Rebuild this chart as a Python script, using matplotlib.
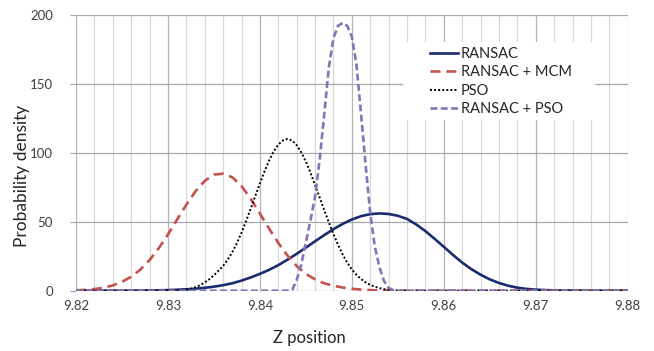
import matplotlib
matplotlib.use("Agg")
import matplotlib.pyplot as plt
from matplotlib.patches import Rectangle
from matplotlib.ticker import MultipleLocator, FormatStrFormatter

plt.rcParams['font.family'] = ['Lato', 'DejaVu Sans']

# probability density curves of the Z estimate
ransac_z = [9.820, 9.826, 9.828, 9.830, 9.831, 9.832, 9.833, 9.834, 9.835, 9.836,
            9.837, 9.838, 9.839, 9.840, 9.841, 9.842, 9.843, 9.844, 9.845, 9.846,
            9.847, 9.848, 9.849, 9.850, 9.851, 9.852, 9.853, 9.854, 9.855, 9.856,
            9.857, 9.858, 9.859, 9.860, 9.861, 9.862, 9.863, 9.864, 9.865, 9.866,
            9.867, 9.868, 9.869, 9.870, 9.871, 9.872, 9.874, 9.876, 9.880]
ransac_pd = [0, 0.05, 0.15, 0.45, 0.7, 1.0, 1.5, 2.1, 2.9, 4.0,
             5.4, 7.3, 9.6, 12.2, 15.1, 18.5, 22.5, 26.7, 31.2, 35.8,
             40.3, 44.6, 48.4, 51.6, 54.0, 55.5, 56.0, 55.6, 54.3, 52.0,
             48.0, 43.2, 37.6, 31.8, 25.9, 20.4, 15.6, 11.6, 8.2, 5.6,
             3.6, 2.2, 1.3, 0.75, 0.45, 0.25, 0.08, 0, 0]

mcm_z = [9.820, 9.821, 9.822, 9.823, 9.824, 9.825, 9.826, 9.827, 9.828, 9.829,
         9.830, 9.831, 9.832, 9.833, 9.834, 9.835, 9.836, 9.837, 9.838, 9.839,
         9.840, 9.841, 9.842, 9.843, 9.844, 9.845, 9.846, 9.847, 9.848, 9.849,
         9.850, 9.851, 9.852, 9.853, 9.855, 9.880]
mcm_pd = [0.3, 0.6, 1.2, 2.2, 3.8, 6.4, 10.1, 15.3, 22.2, 30.8,
          40.7, 51.6, 62.3, 72.1, 79.6, 84.1, 84.8, 82.2, 75.8, 66.6,
          55.9, 45.0, 34.6, 25.4, 17.9, 12.2, 8.2, 5.3, 3.6, 2.3,
          1.4, 0.8, 0.4, 0.2, 0, 0]

pso_z = [9.820, 9.830, 9.8320, 9.8325, 9.8330, 9.8335, 9.8340, 9.8345, 9.8350, 9.8355,
         9.8360, 9.8365, 9.8370, 9.8375, 9.8380, 9.8385, 9.8390, 9.8395, 9.8400, 9.8405,
         9.8410, 9.8415, 9.8420, 9.8425, 9.8430, 9.8435, 9.8440, 9.8445, 9.8450, 9.8455,
         9.8460, 9.8465, 9.8470, 9.8475, 9.8480, 9.8485, 9.8490, 9.8495, 9.8500, 9.8505,
         9.8510, 9.8515, 9.8520, 9.8525, 9.8530, 9.8535, 9.8540, 9.8550, 9.8560, 9.880]
pso_pd = [0, 0, 0.8, 1.4, 2.6, 4.0, 6.0, 8.3, 11.2, 14.5,
          18.0, 22.5, 28.0, 34.5, 42.0, 50.5, 59.5, 68.6, 77.7, 86.4,
          94.3, 100.9, 105.8, 108.9, 110.0, 108.9, 105.5, 100.3, 93.5, 85.5,
          76.5, 67.5, 58.3, 49.5, 41.0, 33.2, 26.3, 20.3, 15.4, 11.5,
          8.4, 6.0, 4.2, 2.9, 1.9, 1.1, 0.6, 0.2, 0, 0]

rpso_z = [9.820, 9.8430, 9.8435, 9.8440, 9.8445, 9.8450, 9.8455, 9.8460, 9.8465, 9.8470,
          9.8475, 9.8480, 9.8485, 9.8490, 9.8495, 9.8500, 9.8505, 9.8510, 9.8515, 9.8520,
          9.8525, 9.8530, 9.8535, 9.8540, 9.8545, 9.8550, 9.880]
rpso_pd = [0, 0, 0.5, 7.7, 19, 35, 51, 68, 95, 128,
           162, 183, 192, 194, 192, 184, 164, 128, 91, 56,
           32, 17, 7, 2, 0.4, 0, 0]

fig = plt.figure(figsize=(6.54, 3.51), dpi=100)
ax = fig.add_axes([76 / 654, 60.3 / 351, 551.7 / 654, 276 / 351])

ax.plot(ransac_z, ransac_pd, color='#1c2b6e', lw=1.9, label='RANSAC', zorder=3)
ax.plot(mcm_z, mcm_pd, color='#c4524d', lw=1.9, ls=(0, (3.8, 2.2)),
        label='RANSAC + MCM', zorder=3)
ax.plot(pso_z, pso_pd, color='black', lw=1.4, ls=(0, (1, 1.1)), label='PSO', zorder=3)
ax.plot(rpso_z, rpso_pd, color='#8474b8', lw=1.9, ls=(0, (2.6, 1.3)),
        label='RANSAC + PSO', zorder=3)

ax.set_xlim(9.82, 9.88)
ax.set_ylim(0, 200)
ax.xaxis.set_major_locator(MultipleLocator(0.01))
ax.xaxis.set_minor_locator(MultipleLocator(0.002))
ax.xaxis.set_major_formatter(FormatStrFormatter('%.2f'))
ax.yaxis.set_major_locator(MultipleLocator(50))

ax.set_axisbelow(True)
ax.grid(which='major', axis='y', color='#a8a8a8', lw=0.9)
ax.grid(which='major', axis='x', color='#b4b4b4', lw=0.9)
ax.grid(which='minor', axis='x', color='#d8d8d8', lw=0.9)
for s in ax.spines.values():
    s.set_visible(False)

ax.tick_params(axis='y', length=4.5, width=0.9, color='#a8a8a8', pad=12,
               labelsize=9.5, labelcolor='#404040')
ax.tick_params(axis='x', which='both', length=0, pad=7,
               labelsize=9.5, labelcolor='#404040')

fig.text(309 / 654, 1 - 338 / 351, 'Z position', ha='center', va='center',
         fontsize=12, color='#262626')
fig.text(22 / 654, 1 - 176 / 351, 'Probability density', ha='center', va='center',
         rotation=90, fontsize=12.5, color='#262626')

# white box behind the legend hides the gridlines there
ax.add_patch(Rectangle((403 / 654, 1 - 120 / 351), 192 / 654, 78 / 351,
                       transform=fig.transFigure, facecolor='white',
                       edgecolor='none', zorder=1))
ax.legend(loc='upper left', bbox_to_anchor=(430 / 654, 1 - 47 / 351),
          bbox_transform=fig.transFigure, frameon=False, fontsize=10.5,
          handlelength=1.95, handletextpad=0.15, labelspacing=0.3,
          borderpad=0, borderaxespad=0, labelcolor='#262626')

fig.savefig('out.png', dpi=100)
